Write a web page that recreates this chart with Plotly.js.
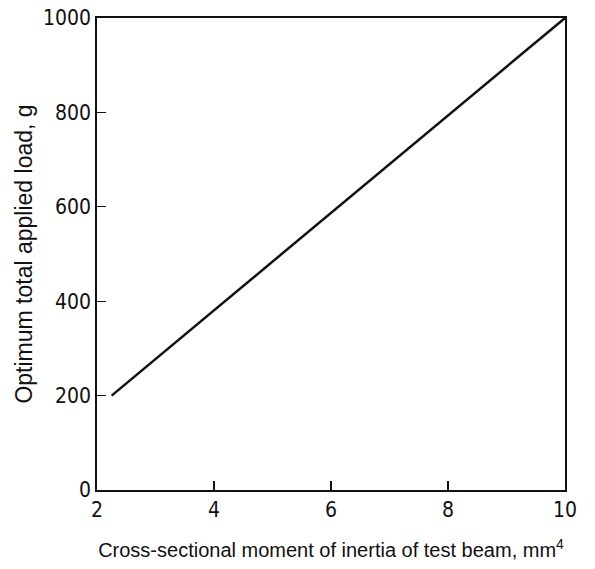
<!DOCTYPE html>
<html><head><meta charset="utf-8">
<script src="https://cdn.plot.ly/plotly-3.0.1.min.js"></script>
<style>html,body{margin:0;padding:0;background:#fff;}#c{width:595px;height:569px;}</style>
</head><body><div id="c"></div>
<script>
const momentOfInertia = [2.25, 10];
const appliedLoad = [200, 1000];
const xTicks = [2, 4, 6, 8, 10];
const yTicks = [0, 200, 400, 600, 800, 1000];

const tickFont = {family: 'DejaVu Sans Condensed', size: 21, color: '#111'};

Plotly.newPlot('c', [{
  x: momentOfInertia, y: appliedLoad, type: 'scatter', mode: 'lines',
  line: {color: '#111', width: 2.5}, hoverinfo: 'skip'
}], {
  width: 595, height: 569,
  margin: {l: 97, r: 30, t: 18, b: 79},
  paper_bgcolor: '#fff', plot_bgcolor: '#fff',
  showlegend: false,
  xaxis: {
    range: [2, 10], tickvals: xTicks, ticktext: xTicks.map(String),
    ticks: 'inside', ticklen: 9, tickwidth: 1.2, tickcolor: '#111',
    showline: true, linecolor: '#111', linewidth: 1.8, mirror: true,
    showgrid: false, zeroline: false, tickfont: tickFont,
    title: {text: 'Cross-sectional moment of inertia of test beam, mm<sup>4</sup>',
      font: {family: 'Liberation Sans', size: 20, color: '#111'}, standoff: 22}
  },
  yaxis: {
    range: [0, 1000], tickvals: yTicks, ticktext: yTicks.map(String),
    ticks: 'inside', ticklen: 9, tickwidth: 1.2, tickcolor: '#111',
    showline: true, linecolor: '#111', linewidth: 1.8, mirror: true,
    showgrid: false, zeroline: false, tickfont: tickFont,
    title: {text: 'Optimum total applied load, g',
      font: {family: 'Liberation Sans', size: 23, color: '#111'}, standoff: 4}
  }
}, {displayModeBar: false, staticPlot: true});
</script></body></html>
